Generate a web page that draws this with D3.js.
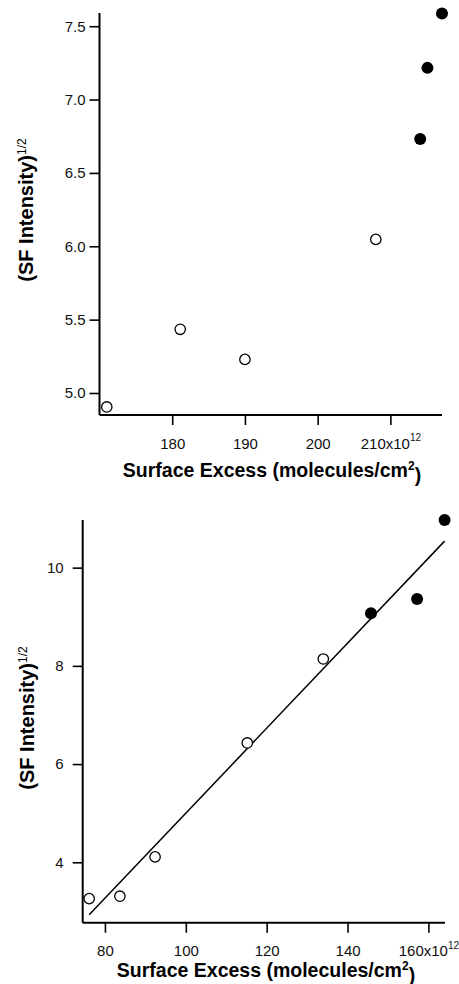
<!DOCTYPE html>
<html>
<head>
<meta charset="utf-8">
<script src="https://cdn.jsdelivr.net/npm/d3@7"></script>
<style>
  html, body { margin: 0; padding: 0; background: #fff; }
  svg { display: block; font-family: "Liberation Sans", Arial, Helvetica, sans-serif; }
</style>
</head>
<body>
<svg id="chart" width="459" height="984"></svg>
<script>
// Panel A: surface excess (x10^12 molecules/cm^2) vs sqrt(SF intensity)
const topOpenX   = [171.0, 181.1, 190.0, 208.0];
const topOpenY   = [4.905, 5.434, 5.229, 6.047];
const topFilledX = [214.1, 215.1, 217.1];
const topFilledY = [6.731, 7.216, 7.586];
const topXTicks  = [180, 190, 200, 210];
const topYTicks  = [5.0, 5.5, 6.0, 6.5, 7.0, 7.5];

// Panel B: same quantities, with a linear fit
const botOpenX   = [76.1, 83.7, 92.4, 115.2, 134.0];
const botOpenY   = [3.26, 3.31, 4.11, 6.43, 8.14];
const botFilledX = [145.8, 157.2, 164.0];
const botFilledY = [9.07, 9.36, 10.97];
const botFitX    = [76.1, 164.0];
const botFitY    = [2.93, 10.54];
const botXTicks  = [80, 100, 120, 140, 160];
const botYTicks  = [4, 6, 8, 10];

const xTitle = "Surface Excess (molecules/cm";
const yTitle = "(SF Intensity)";

const svg = d3.select("#chart");

function panel(cfg) {
  const g = svg.append("g");
  const x = d3.scaleLinear().domain(cfg.xDomain).range([cfg.left, cfg.right]);
  const y = d3.scaleLinear().domain(cfg.yDomain).range([cfg.bottom, cfg.top]);

  const xAxis = d3.axisBottom(x).tickValues(cfg.xTicks).tickSize(10).tickPadding(13)
    .tickFormat((d, i) => i === cfg.xTicks.length - 1 ? d + "x10" : d);
  const yAxis = d3.axisLeft(y).tickValues(cfg.yTicks).tickSize(10).tickPadding(cfg.yPad)
    .tickFormat(cfg.yFormat);

  const gx = g.append("g").attr("transform", `translate(0,${cfg.bottom})`).call(xAxis);
  const gy = g.append("g").attr("transform", `translate(${cfg.left},0)`).call(yAxis);
  [gx, gy].forEach(a => {
    a.select(".domain").attr("stroke", "#000").attr("stroke-width", 2);
    a.selectAll(".tick line").attr("stroke", "#000").attr("stroke-width", 1.6);
    a.selectAll(".tick text").attr("fill", "#111").style("font-size", "15px");
  });
  // plain axis lines without end caps
  gx.select(".domain").attr("d", `M${cfg.left},0H${cfg.right}`);
  gy.select(".domain").attr("d", `M0,${cfg.bottom}V${cfg.top}`);

  // exponent on last x tick
  gx.selectAll(".tick text").filter((d, i) => i === cfg.xTicks.length - 1)
    .append("tspan").attr("dy", "-0.75em").style("font-size", "10px").text("12");

  // fit line
  if (cfg.fitX) {
    const line = d3.line().x(d => x(d[0])).y(d => y(d[1]));
    g.append("path")
      .datum(cfg.fitX.map((v, i) => [v, cfg.fitY[i]]))
      .attr("d", line).attr("fill", "none").attr("stroke", "#000").attr("stroke-width", 1.5);
  }

  // markers
  g.selectAll("circle.open")
    .data(cfg.openX.map((v, i) => [v, cfg.openY[i]]))
    .join("circle").attr("class", "open")
    .attr("cx", d => x(d[0])).attr("cy", d => y(d[1])).attr("r", 5.2)
    .attr("fill", "#fff").attr("stroke", "#000").attr("stroke-width", 1.3);
  g.selectAll("circle.filled")
    .data(cfg.filledX.map((v, i) => [v, cfg.filledY[i]]))
    .join("circle").attr("class", "filled")
    .attr("cx", d => x(d[0])).attr("cy", d => y(d[1])).attr("r", 6)
    .attr("fill", "#000");

  // x title
  const xt = g.append("text")
    .attr("x", cfg.xTitleX).attr("y", cfg.xTitleY)
    .attr("text-anchor", "middle")
    .style("font-size", "19.5px").style("font-weight", "bold").attr("fill", "#000");
  xt.append("tspan").text(xTitle);
  xt.append("tspan").attr("dy", "-0.6em").style("font-size", "12px").text("2");
  xt.append("tspan").attr("dy", "0.6em").text(")");

  // y title
  const yt = g.append("text")
    .attr("transform", `translate(${cfg.yTitleX},${cfg.yTitleY}) rotate(-90)`)
    .attr("text-anchor", "middle")
    .style("font-size", "20px").style("font-weight", "bold").attr("fill", "#000");
  yt.append("tspan").text(yTitle);
  yt.append("tspan").attr("dy", "-0.6em").style("font-size", "12px").style("font-weight", "normal").text("1/2");
}

panel({
  xDomain: [170, 217.1], yDomain: [4.85, 7.59],
  left: 99.5, right: 442, top: 13, bottom: 415,
  xTicks: topXTicks, yTicks: topYTicks, yFormat: d3.format(".1f"), yPad: 4,
  openX: topOpenX, openY: topOpenY, filledX: topFilledX, filledY: topFilledY,
  xTitleX: 272, xTitleY: 477, yTitleX: 33, yTitleY: 210
});

panel({
  xDomain: [74.5, 164.1], yDomain: [2.77, 10.97],
  left: 82.7, right: 445, top: 520, bottom: 922.7,
  xTicks: botXTicks, yTicks: botYTicks, yFormat: d3.format("d"), yPad: 9,
  openX: botOpenX, openY: botOpenY, filledX: botFilledX, filledY: botFilledY,
  fitX: botFitX, fitY: botFitY,
  xTitleX: 266, xTitleY: 977, yTitleX: 34, yTitleY: 718
});
</script>
</body>
</html>
